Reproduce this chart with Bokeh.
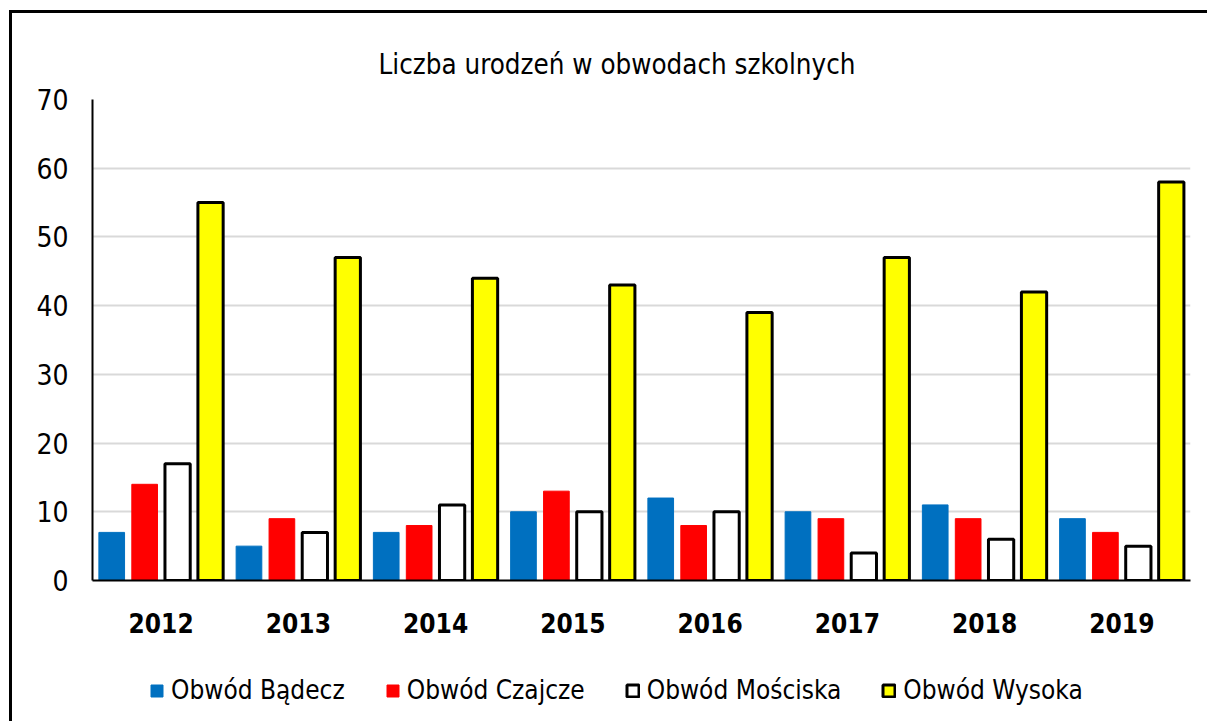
from bokeh.plotting import figure
from bokeh.layouts import column
from bokeh.models import (ColumnDataSource, FactorRange, FixedTicker, Legend, LegendItem, Title)
from bokeh.transform import dodge
from bokeh.embed import file_html
from bokeh.resources import INLINE

years = ["2012", "2013", "2014", "2015", "2016", "2017", "2018", "2019"]
badecz = [7, 5, 7, 10, 12, 10, 11, 9]
czajcze = [14, 9, 8, 13, 8, 9, 9, 7]
moscisk = [17, 7, 11, 10, 10, 4, 6, 5]
wysoka = [55, 47, 44, 43, 39, 47, 42, 58]
series_names = ["Obwód Bądecz", "Obwód Czajcze", "Obwód Mościska", "Obwód Wysoka"]
series_fill = ["#0070C0", "#FF0000", "white", "#FFFF00"]
series_line = ["#0070C0", "#FF0000", "black", "black"]
y_ticks = [0, 10, 20, 30, 40, 50, 60, 70]
title_text = "Liczba urodzeń w obwodach szkolnych"

FONT = "DejaVu Sans Condensed"

src = ColumnDataSource(dict(year=years, b=badecz, c=czajcze, m=moscisk, w=wysoka))

W, H1, H2 = 1195, 650, 58
p = figure(x_range=FactorRange(*years, range_padding=0), y_range=(0, 70),
           width=W, height=H1, output_backend="svg", toolbar_location=None,
           min_border_left=80, min_border_right=W - 1178, min_border_top=86,
           min_border_bottom=H1 - 567)

p.title = Title(text=title_text, align="left", offset=286, standoff=39,
                text_font=FONT, text_font_size="27.5px", text_font_style="normal",
                text_color="black")
p.outline_line_color = None
p.background_fill_color = "white"
p.border_fill_color = "white"

cols = ["b", "c", "m", "w"]
offsets = [-0.36, -0.12, 0.12, 0.36]
widths = [0.187, 0.187, 0.184, 0.184]
lws = [1, 1, 3, 3]
for col, off, wd, fc, lc, lw in zip(cols, offsets, widths, series_fill, series_line, lws):
    p.vbar(x=dodge("year", off, range=p.x_range), top=col, width=wd, source=src,
           fill_color=fc, line_color=lc, line_width=lw)

p.yaxis.ticker = FixedTicker(ticks=y_ticks)
p.ygrid.ticker = FixedTicker(ticks=y_ticks)
p.ygrid.grid_line_color = "#d9d9d9"
p.ygrid.grid_line_width = 2
p.xgrid.grid_line_color = None

for ax in (p.xaxis[0], p.yaxis[0]):
    ax.axis_line_color = "black"
    ax.axis_line_width = 2
    ax.major_tick_line_color = None
    ax.minor_tick_line_color = None
    ax.major_tick_out = 0
    ax.major_tick_in = 0
    ax.major_label_text_color = "black"
    ax.major_label_text_font = FONT

p.yaxis.major_label_text_font_size = "28px"
p.yaxis.major_label_standoff = 24
p.xaxis.major_label_text_font_size = "26px"
p.xaxis.major_label_text_font_style = "bold"
p.xaxis.major_label_standoff = 32

# legend strip below the chart
lg = figure(width=W, height=H2, x_range=(0, 1), y_range=(0, 1), output_backend="svg",
            toolbar_location=None, x_axis_location=None, y_axis_location=None,
            min_border=0, min_border_left=0, min_border_right=0,
            min_border_top=0, min_border_bottom=0)
lg.outline_line_color = None
lg.grid.visible = False
lg.border_fill_color = "white"
lg.background_fill_color = "white"
# hidden renderers: they only supply the legend swatches
hidden = ColumnDataSource(dict(x=[0.5], top=[0.5]))
items = []
for name, fc, lc, lw in zip(series_names, series_fill, series_line, lws):
    r = lg.vbar(x="x", top="top", width=0.1, source=hidden,
                fill_color=fc, line_color=lc, line_width=lw)
    r.visible = False
    items.append(LegendItem(label=name, renderers=[r]))

legend = Legend(items=items, orientation="horizontal", location=(57, 16),
                glyph_width=15, glyph_height=15, label_standoff=7, spacing=40,
                padding=0, margin=0, border_line_color=None, background_fill_alpha=0,
                inactive_fill_alpha=0,
                label_text_font=FONT, label_text_font_size="26px", label_text_color="black")
lg.add_layout(legend, "center")

layout = column(p, lg, spacing=0)
layout.styles = {"border-left": "3px solid black", "border-top": "3px solid black",
                 "margin-left": "9px", "margin-top": "10px"}

open("out.html", "w").write(file_html(layout, INLINE))
